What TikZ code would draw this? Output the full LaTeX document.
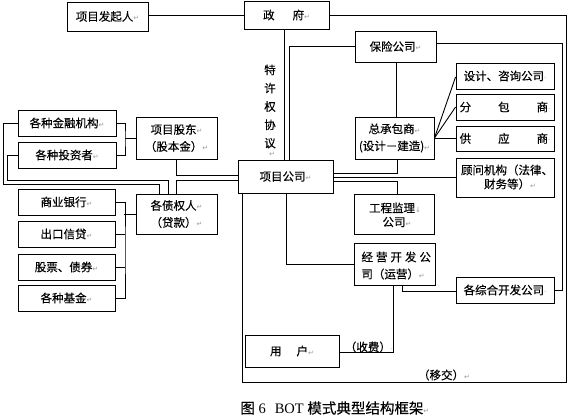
\documentclass[tikz,border=0pt]{standalone}
\usepackage{fontspec}
\setmainfont{Liberation Serif}
\newfontfamily\cjk[FakeBold=0.3]{Noto Sans CJK SC}
\newfontfamily\djv{DejaVu Sans}
\usetikzlibrary{fit}
\newcommand\ar{{\djv\color{black!40}\fontsize{7}{7}\selectfont ↵}}
\newcommand\dt{{\djv\color{black!40}\fontsize{7}{7}\selectfont ·}}
\newcommand\dn{{\djv\color{black!40}\fontsize{7}{7}\selectfont ↓}}
\newcommand\mkbox[5]{\node[box, fit={(#2,#3) (#4,#5)}] (#1) {};}
\begin{document}
\begin{tikzpicture}[x=1pt,y=-1pt,line width=0.9pt,
  box/.style={draw, rectangle, inner sep=0pt},
  txt/.style={font=\cjk\fontsize{11.5}{17}\selectfont, inner sep=0pt, align=center}]
\useasboundingbox (0,0) rectangle (569,418);
% boxes
\mkbox{fq}{67}{2}{148}{31}
\mkbox{gov}{244}{1}{329}{29}
\mkbox{ins}{355}{31}{436}{62}
\mkbox{des}{456}{63}{554}{89}
\mkbox{sub}{456}{94}{554}{120}
\mkbox{sup}{456}{126}{554}{151}
\mkbox{adv}{456}{158}{554}{197}
\mkbox{gc}{355}{117}{434}{159}
\mkbox{pc}{238}{160}{333}{193}
\mkbox{fin}{18}{110}{116}{136}
\mkbox{inv}{18}{142}{116}{168}
\mkbox{sh}{136}{117}{217}{159}
\mkbox{cr}{136}{194}{217}{234}
\mkbox{bank}{18}{189}{115}{215}
\mkbox{exp}{18}{221}{115}{247}
\mkbox{stk}{18}{254}{115}{280}
\mkbox{fund}{18}{285}{115}{311}
\mkbox{user}{245}{335}{339}{367}
\mkbox{sv}{354}{194}{434}{234}
\mkbox{op}{354}{243}{435}{285}
\mkbox{cd}{456}{277}{554}{303}
% texts
\node[txt] (tfq) at (fq) {项目发起人\ar};
\node[txt] (tgov) at (gov) {政\hspace{18pt}府\ar};
\node[txt] (tins) at (ins) {保险公司\ar};
\node[txt] (tdes) at (des) {设计、咨询公司\dt};
\node[txt] (tsub) at (sub) {分\hspace{27pt}包\hspace{27pt}商\dt};
\node[txt] (tsup) at (sup) {供\hspace{27pt}应\hspace{27pt}商\dt};
\node[txt] (tadv1) at (507,170) {顾问机构（法律、};
\node[txt] (tadv2) at (510,184) {财务等）\ar};
\node[txt] (tgc) at (gc) {总承包商\ar\\(设计－建造)\ar};
\node[txt] (tpc) at (pc) {项目公司\ar};
\node[txt] (tfin) at (fin) {各种金融机构\ar};
\node[txt] (tinv) at (inv) {各种投资者\ar};
\node[txt] (tsh) at (sh) {项目股东\ar\\（股本金）\ar};
\node[txt] (tcr) at (cr) {各债权人\ar\\（贷款）\ar};
\node[txt] (tbank) at (bank) {商业银行\ar};
\node[txt] (texp) at (exp) {出口信贷\ar};
\node[txt] (tstk) at (stk) {股票、债券\ar};
\node[txt] (tfund) at (fund) {各种基金\ar};
\node[txt] (tuser) at (user) {用\hspace{15pt}户\ar};
\node[txt] (tsv1) at (395,208) {工程监理\dn};
\node[txt] (tsv2) at (397,222) {公司\ar};
\node[txt, anchor=west] (top1) at (361,257) {经\hspace{3pt}营\hspace{3pt}开\hspace{3pt}发\hspace{3pt}公};
\node[txt, anchor=west] (top2) at (361,274) {司（运营）\ar};
\node[txt] (tcd) at (cd) {各综合开发公司\dt};
\node[txt, font=\cjk\fontsize{11.5}{18.3}\selectfont] (tlic) at (270,106.5) {特\\许\\权\\协\\议};
\node[txt] (tlicr) at (272,154) {\ar};
\node[txt] (tfee) at (369,347) {（收费）\dt};
\node[txt] (ttr) at (444,375) {（移交）\ar};
\node[anchor=west, inner sep=0pt, font=\fontsize{14.5}{15}\selectfont] (cap) at (240,408) {{\cjk 图} 6\hspace{9pt}BOT {\cjk 模式典型结构框架}\ar};
% connectors
\draw (fq.east |- gov.west) -- (gov.west);
\draw (gov.east) -- (566,15) -- (566,382) -- (242,382) -- (pc.south -| 242,0);
\draw (gov.south -| 284,0) -- (pc.north -| 284,0);
\draw (ins.west |- 0,46) -- (289,46) -- (pc.north -| 289,0);
\draw (ins.east |- 0,43) -- (562,43) -- (562,290) -- (cd.east |- 0,290);
\draw (ins.south -| 396,0) -- (gc.north -| 396,0);
\draw (gc.east) -- (des.west |- 0,77);
\draw (gc.east) -- (sub.west |- 0,107);
\draw (gc.east) -- (sup.west |- gc.east);
\draw (gc.south -| 397,0) |- (pc.east |- 0,173);
\draw (pc.east |- adv.west) -- (adv.west);
\draw (pc.east |- 0,181) -| (sv.north -| 397,0);
\draw (pc.south -| 286,0) |- (op.west);
\draw (op.south -| 402,0) |- (cd.west |- 0,291);
\draw (op.south -| 393,0) |- (user.east |- 0,352);
\draw (sh.south -| 176,0) |- (pc.west |- 0,175);
\draw (cr.north -| 176,0) |- (pc.west |- 0,180);
\draw (fin.west) -- (3,123) -- (3,184) -- (159,184) -- (cr.north -| 159,0);
\draw (inv.west) -- (7,155) -- (7,180) -- (168,180) -- (cr.north -| 168,0);
\draw (fin.east) -| (125,138) |- (inv.east);
\draw (125,138) -- (sh.west |- 0,138);
\draw (bank.east) -| (125,250) |- (fund.east);
\draw (exp.east) -- (exp.east -| 125,0);
\draw (stk.east) -- (stk.east -| 125,0);
\draw (124,214) -- (cr.west |- 0,214);
\end{tikzpicture}
\end{document}
